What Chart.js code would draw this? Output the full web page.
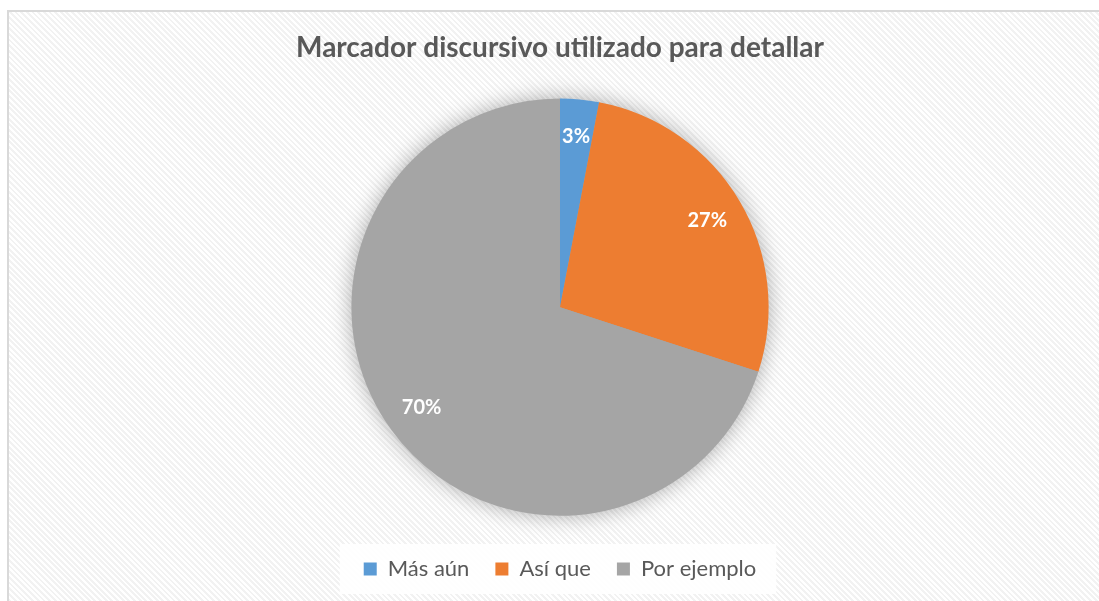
<!DOCTYPE html>
<html>
<head>
<meta charset="utf-8">
<script src="https://cdn.jsdelivr.net/npm/chart.js@4.4.1/dist/chart.umd.min.js"></script>
<style>
html, body { margin: 0; padding: 0; background: #fff; }
#wrap { position: relative; width: 1099px; height: 601px; overflow: hidden; }
#frame {
    position: absolute; left: 7px; top: 10px; width: 1120px; height: 620px;
    border-top: 2px solid #d9d9d9; border-left: 2px solid #d9d9d9;
    background: repeating-linear-gradient(45deg, #ffffff 0px, #ffffff 2px, #f2f2f2 2px, #f2f2f2 4px);
}
#c { position: absolute; left: 0; top: 0; }
</style>
</head>
<body>
<div id="wrap">
  <div id="frame"></div>
  <canvas id="c" width="1099" height="601"></canvas>
</div>
<script>
var labels = ['Más aún', 'Así que', 'Por ejemplo'];
var values = [3, 27, 70];
var colors = ['#5B9BD5', '#ED7D31', '#A5A5A5'];
var chartTitle = 'Marcador discursivo utilizado para detallar';

var FONT = "Lato, 'Open Sans', sans-serif";

// soft shadow under the whole pie, drawn once so slices don't shade each other
var pieShadow = {
    id: 'pieShadow',
    beforeDatasetsDraw: function(chart) {
        var arc = chart.getDatasetMeta(0).data[0];
        if (!arc) return;
        var ctx = chart.ctx;
        ctx.save();
        ctx.shadowColor = 'rgba(0,0,0,0.35)';
        ctx.shadowBlur = 22;
        ctx.beginPath();
        ctx.arc(arc.x, arc.y, arc.outerRadius - 1, 0, Math.PI * 2);
        ctx.fillStyle = '#a5a5a5';
        ctx.fill();
        ctx.restore();
    }
};

// percent labels inside the slices
var sliceLabels = {
    id: 'sliceLabels',
    afterDatasetsDraw: function(chart) {
        var ctx = chart.ctx;
        var meta = chart.getDatasetMeta(0);
        var total = 0;
        for (var i = 0; i < values.length; i++) total += values[i];
        ctx.save();
        ctx.fillStyle = '#ffffff';
        ctx.font = 'bold 20px ' + FONT;
        ctx.textAlign = 'center';
        ctx.textBaseline = 'middle';
        for (var i = 0; i < meta.data.length; i++) {
            var p = meta.data[i].getProps(['x', 'y', 'startAngle', 'endAngle', 'outerRadius'], true);
            var mid = (p.startAngle + p.endAngle) / 2;
            var r = p.outerRadius * 0.82;
            var txt = Math.round(values[i] / total * 100) + '%';
            ctx.fillText(txt, p.x + Math.cos(mid) * r, p.y + Math.sin(mid) * r);
        }
        ctx.restore();
    }
};

// white box behind the legend
var legendBox = {
    id: 'legendBox',
    beforeDraw: function(chart) {
        var boxes = chart.legend && chart.legend.legendHitBoxes;
        if (!boxes || !boxes.length) return;
        var minX = Infinity, maxX = -Infinity, minY = Infinity, maxY = -Infinity;
        for (var i = 0; i < boxes.length; i++) {
            var b = boxes[i];
            minX = Math.min(minX, b.left);
            maxX = Math.max(maxX, b.left + b.width);
            minY = Math.min(minY, b.top);
            maxY = Math.max(maxY, b.top + b.height);
        }
        var ctx = chart.ctx;
        ctx.save();
        ctx.fillStyle = 'rgba(255,255,255,0.9)';
        ctx.fillRect(minX - 24, minY - 14, maxX - minX + 44, maxY - minY + 28);
        ctx.restore();
    }
};

new Chart(document.getElementById('c'), {
    type: 'pie',
    data: {
        labels: labels,
        datasets: [{
            data: values,
            backgroundColor: colors,
            borderWidth: 0
        }]
    },
    options: {
        responsive: false,
        animation: false,
        layout: { padding: { left: 21, right: 0, top: 10, bottom: 11 } },
        plugins: {
            title: {
                display: true,
                text: chartTitle,
                color: '#595959',
                font: { family: FONT, size: 28, weight: 'bold' },
                padding: { top: 21, bottom: 34 }
            },
            legend: {
                position: 'bottom',
                title: {
                    display: true,
                    text: ' ',
                    font: { size: 1 },
                    padding: { top: 0, bottom: 15 }
                },
                labels: {
                    color: '#595959',
                    font: { family: FONT, size: 22 },
                    boxWidth: 13,
                    boxHeight: 13,
                    padding: 26
                }
            },
            tooltip: { enabled: false }
        }
    },
    plugins: [legendBox, pieShadow, sliceLabels]
});
</script>
</body>
</html>
